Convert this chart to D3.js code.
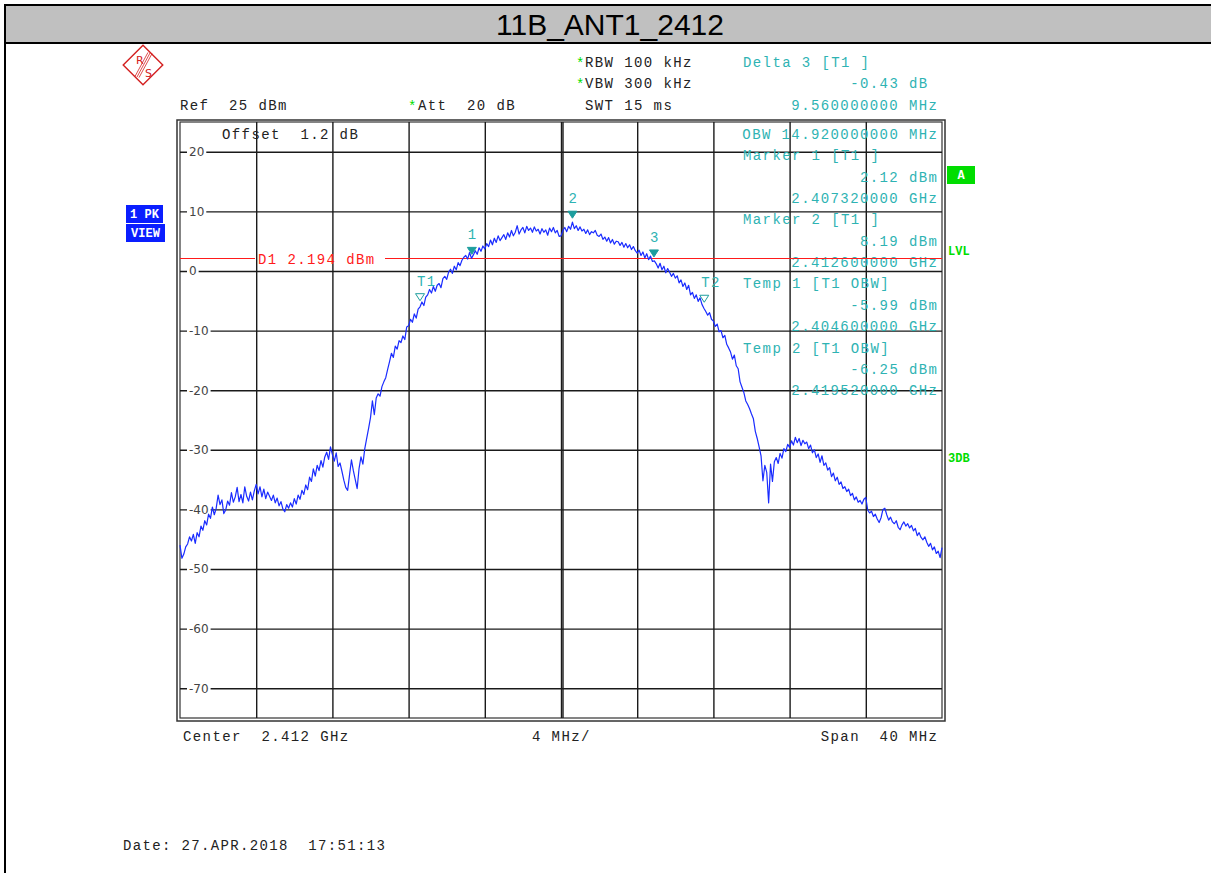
<!DOCTYPE html>
<html><head><meta charset="utf-8">
<script src="https://cdn.jsdelivr.net/npm/d3@7"></script>
<style>
body{margin:0;background:#fff;}
svg{display:block;}
.mono{font-family:"Liberation Mono",monospace;font-size:14px;letter-spacing:1.4px;white-space:pre;}
</style>
</head><body><svg id="c" width="1211" height="873"></svg>
<script>
// ---------- DATA ----------
const title = "11B_ANT1_2412";
const sweepStartMHz = 2392;
const sweepStepMHz = 0.1;
const spanMHz = [2392, 2432];
const levelRange = [-75, 25];
const yTickValues = [20, 10, 0, -10, -20, -30, -40, -50, -60, -70];
const yTickLabels = ["20", "10", "0", "-10", "-20", "-30", "-40", "-50", "-60", "-70"];
const xGridMHz = [2396, 2400, 2404, 2408, 2412, 2416, 2420, 2424, 2428];
const traceDbm = [
 -46.0,-48.2,-47.5,-46.3,-45.8,-44.6,-45.3,-44.2,-45.7,-43.9,
 -44.6,-42.8,-43.5,-41.9,-42.6,-40.8,-41.5,-39.6,-40.9,-39.8,
 -37.6,-39.2,-38.4,-40.7,-40.1,-38.6,-39.3,-37.2,-38.8,-37.9,
 -36.3,-38.7,-37.5,-38.9,-36.2,-37.8,-38.6,-37.1,-38.4,-36.9,
 -35.8,-37.4,-36.2,-37.9,-36.6,-38.2,-37.1,-37.8,-38.5,-37.6,
 -38.9,-38.1,-39.4,-38.7,-39.9,-40.4,-39.2,-39.8,-38.9,-39.6,
 -38.2,-39.1,-37.6,-38.3,-36.8,-37.5,-35.9,-36.7,-34.6,-35.3,
 -33.2,-34.4,-32.6,-33.5,-31.8,-32.9,-31.2,-30.4,-31.6,-29.5,
 -30.8,-31.9,-30.5,-32.8,-32.2,-33.6,-35.1,-36.3,-36.8,-34.2,
 -31.7,-33.5,-35.0,-36.5,-33.1,-31.2,-32.4,-29.8,-28.1,-26.4,
 -24.6,-21.8,-24.1,-21.3,-20.6,-21.0,-19.4,-18.6,-17.9,-16.5,
 -15.2,-13.8,-14.5,-12.6,-13.1,-11.7,-12.0,-10.9,-11.5,-9.4,
 -9.2,-8.1,-8.6,-7.2,-7.9,-6.4,-6.0,-5.2,-5.8,-4.4,
 -4.0,-3.1,-3.7,-2.6,-3.4,-2.4,-2.1,-2.8,-1.3,-0.9,
 -1.4,-0.2,0.3,-0.4,0.8,0.2,1.4,0.9,1.8,2.3,
 2.6,2.0,3.1,2.12,2.7,3.4,2.8,3.9,3.3,4.2,
 3.7,4.6,4.1,5.2,4.4,5.5,4.8,5.9,5.1,5.6,
 6.1,5.3,6.4,5.7,6.8,5.9,6.5,7.6,6.2,6.9,
 7.3,6.4,7.5,6.8,7.2,6.5,7.4,6.7,7.0,6.2,
 7.1,6.5,6.9,6.0,7.2,6.6,7.3,6.4,6.8,5.8,
 5.9,6.8,7.3,6.6,7.5,7.0,8.19,7.1,7.6,6.8,
 7.4,6.7,7.0,6.3,6.9,6.1,6.6,6.4,6.8,6.0,
 5.8,6.2,5.3,5.7,5.0,5.6,4.7,5.3,4.5,5.0,
 4.9,4.3,4.8,4.0,4.6,3.9,4.4,3.6,4.1,3.4,
 3.0,3.5,2.6,3.2,2.2,2.9,1.9,2.5,1.6,1.7,
 1.2,0.5,1.3,0.2,0.8,-0.3,0.4,-0.2,-0.9,-0.4,
 -1.2,-0.8,-2.0,-1.5,-2.6,-2.0,-3.1,-2.4,-4.0,-3.6,
 -4.6,-4.0,-5.1,-4.5,-5.6,-6.25,-6.8,-7.4,-7.0,-8.1,
 -8.4,-9.3,-8.9,-10.2,-10.0,-11.2,-10.8,-12.3,-12.9,-13.6,
 -14.8,-14.1,-15.9,-16.4,-18.6,-19.5,-20.4,-21.8,-22.4,-23.1,
 -24.0,-24.8,-26.9,-28.1,-29.5,-31.0,-35.2,-32.6,-33.8,-38.9,
 -32.4,-35.3,-32.0,-31.3,-32.3,-30.6,-31.4,-29.8,-30.3,-29.1,
 -29.6,-28.5,-29.2,-27.9,-28.8,-28.1,-29.3,-28.4,-29.0,-28.7,
 -29.8,-29.2,-30.5,-30.0,-31.3,-30.7,-32.1,-31.0,-32.6,-32.2,
 -33.4,-33.0,-34.5,-33.9,-35.2,-34.6,-35.8,-35.4,-36.5,-36.2,
 -37.0,-36.6,-37.7,-37.3,-38.4,-37.9,-38.8,-38.5,-39.1,-38.3,
 -38.0,-40.1,-40.6,-40.3,-41.2,-40.8,-41.6,-42.2,-41.4,-40.0,
 -39.8,-40.9,-41.8,-41.3,-42.1,-42.4,-41.9,-43.0,-43.4,-42.6,
 -42.1,-42.8,-42.4,-43.1,-42.7,-43.6,-43.2,-44.4,-43.9,-44.7,
 -45.1,-44.6,-45.5,-46.2,-45.7,-46.8,-46.3,-47.4,-47.0,-48.1,
 -46.4
];
const markers = [
 {label:"1", freq:2407.32, level:2.12, kind:"filled"},
 {label:"2", freq:2412.60, level:8.19, kind:"filled"},
 {label:"3", freq:2416.88, level:1.69, kind:"filled"},
 {label:"T1", freq:2404.60, level:-5.99, kind:"hollow"},
 {label:"T2", freq:2419.52, level:-6.25, kind:"hollow"}
];
const displayLineLevel = 2.194;
const displayLineLabel = "D1 2.194 dBm";
const headerLeft = [["RBW 100 kHz", true], ["VBW 300 kHz", true], ["SWT 15 ms", false]];
const markerPanel = [
 ["Delta 3 [T1 ]", "left"], ["-0.43 dB ", "right"], ["9.560000000 MHz", "right"],
 ["OBW 14.920000000 MHz", "right"],
 ["Marker 1 [T1 ]", "left"], ["2.12 dBm", "right"], ["2.407320000 GHz", "right"],
 ["Marker 2 [T1 ]", "left"], ["8.19 dBm", "right"], ["2.412600000 GHz", "right"],
 ["Temp 1 [T1 OBW]", "left"], ["-5.99 dBm", "right"], ["2.404600000 GHz", "right"],
 ["Temp 2 [T1 OBW]", "left"], ["-6.25 dBm", "right"], ["2.419520000 GHz", "right"]
];
const refText = "Ref  25 dBm";
const attText = "Att  20 dB";
const offsetText = "Offset  1.2 dB";
const bottomTexts = ["Center  2.412 GHz", "4 MHz/", "Span  40 MHz"];
const dateText = "Date: 27.APR.2018  17:51:13";

// ---------- DRAW ----------
const svg = d3.select("#c");
const L = 180, R = 942, T = 122, B = 718;
const x = d3.scaleLinear().domain(spanMHz).range([L, R]);
const y = d3.scaleLinear().domain(levelRange).range([B, T]);
const TEAL = "#2eb3b3", GREEN = "#00dd00", BLUE = "#1a2cff", RED = "#ff1a1a", DARK = "#222";

// page frame + header
svg.append("rect").attr("x",5).attr("y",5).attr("width",1220).attr("height",38)
  .attr("fill","#c0c0c0").attr("stroke","#000").attr("stroke-width",2);
svg.append("line").attr("x1",5).attr("x2",5).attr("y1",5).attr("y2",873).attr("stroke","#000").attr("stroke-width",2);
svg.append("text").attr("x",610).attr("y",35).attr("text-anchor","middle")
  .style("font-family","'Liberation Sans',Arial,sans-serif").style("font-size","30px").attr("fill","#000")
  .text(title);

// R&S logo
const logo = svg.append("g").attr("transform","translate(143,65)");
logo.append("rect").attr("x",-14).attr("y",-14).attr("width",28).attr("height",28)
  .attr("transform","rotate(45)").attr("fill","none").attr("stroke","#d42020").attr("stroke-width",1.4);
[-2,0,2].forEach(o=>logo.append("line").attr("x1",7+o).attr("y1",-12+o*0.3).attr("x2",-6+o).attr("y2",12+o*0.3)
  .attr("stroke","#d42020").attr("stroke-width",0.8));
logo.append("text").attr("x",-7).attr("y",-1).style("font-family","'DejaVu Sans',sans-serif").style("font-size","11px").attr("fill","#d42020").text("R");
logo.append("text").attr("x",2).attr("y",12).style("font-family","'DejaVu Sans',sans-serif").style("font-size","11px").attr("fill","#d42020").text("S");

function mono(txt, xx, yy, color, anchor){
  return svg.append("text").attr("class","mono").attr("x",xx).attr("y",yy)
    .attr("text-anchor",anchor||"start").attr("fill",color).attr("xml:space","preserve").text(txt);
}
const rowY = i => 67 + i*21.4;
headerLeft.forEach((h,i)=>{
  if(h[1]) mono("*", 576, rowY(i)+1, GREEN);
  mono(h[0], 585, rowY(i), DARK);
});
mono(refText, 180, rowY(2), DARK);
mono("*", 408, rowY(2)+1, GREEN);
mono(attText, 418, rowY(2), DARK);

// plot frame (double)
svg.append("rect").attr("x",177).attr("y",120).attr("width",768).attr("height",601).attr("fill","none").attr("stroke","#333").attr("stroke-width",1.5);
svg.append("rect").attr("x",L).attr("y",T).attr("width",R-L).attr("height",B-T).attr("fill","#fff").attr("stroke","#333").attr("stroke-width",1.2);

// grid via axes
const gx = svg.append("g").attr("transform",`translate(0,${B})`)
  .call(d3.axisTop(x).tickValues(xGridMHz).tickSize(B-T).tickFormat(""));
gx.select(".domain").remove();
gx.selectAll("line").attr("stroke","#1a1a1a").attr("stroke-width",1.4);
svg.append("line").attr("x1",x(2412)+2).attr("x2",x(2412)+2).attr("y1",T).attr("y2",B).attr("stroke","#1a1a1a").attr("stroke-width",1.4);

const gy = svg.append("g").attr("transform",`translate(${R},0)`)
  .call(d3.axisLeft(y).tickValues(yTickValues).tickSize(R-L).tickFormat(""));
gy.select(".domain").remove();
gy.selectAll("line").attr("stroke","#1a1a1a").attr("stroke-width",1.4);

// y labels
const gyl = svg.append("g").attr("transform",`translate(${L},0)`)
  .call(d3.axisRight(y).tickValues(yTickValues).tickSize(0).tickPadding(9)
    .tickFormat((d,i)=>yTickLabels[i]));
gyl.select(".domain").remove();
gyl.selectAll("text").style("font-family","'DejaVu Sans',sans-serif").style("font-size","12px").attr("fill","#444");
gyl.selectAll(".tick").each(function(){
  const t = d3.select(this).select("text");
  const bb = t.node().getBBox();
  d3.select(this).insert("rect","text").attr("x",bb.x-2).attr("y",bb.y).attr("width",bb.width+4).attr("height",bb.height).attr("fill","#fff");
});

// offset text and marker panel
mono(offsetText, 222, 139, DARK);
markerPanel.forEach((m,i)=>{
  const yy = i < 3 ? rowY(i) : 139 + (i-3)*21.35;
  if(m[1]==="left") mono(m[0], 743, yy, TEAL);
  else mono(m[0], 938.4, yy, TEAL, "end");
});

// display line D1
const dy = Math.round(y(displayLineLevel)) + 0.5;
svg.append("line").attr("x1",L).attr("x2",255).attr("y1",dy).attr("y2",dy).attr("stroke",RED).attr("stroke-width",1);
svg.append("line").attr("x1",385).attr("x2",R).attr("y1",dy).attr("y2",dy).attr("stroke",RED).attr("stroke-width",1);
mono(displayLineLabel, 258, dy+5, RED);

// trace
const line = d3.line().x((d,i)=>x(sweepStartMHz + i*sweepStepMHz)).y(d=>y(d));
svg.append("path").datum(traceDbm).attr("d",line).attr("fill","none").attr("stroke",BLUE).attr("stroke-width",1.2).attr("stroke-linejoin","round");

// markers
markers.forEach(m=>{
  const mx = x(m.freq), my = y(m.level);
  const top = my - (m.kind==="filled" ? 11 : 13);
  svg.append("path").attr("d",`M${mx-4.5},${top}L${mx+4.5},${top}L${mx},${top+7}Z`)
    .attr("fill", m.kind==="filled" ? "#1d9e9e" : "none").attr("stroke","#1d9e9e").attr("stroke-width",1);
  mono(m.label, m.kind==="filled" ? mx-4 : mx-3, top-8, TEAL);
});

// badges
function badge(txt, bx, by, w, h, fill){
  svg.append("rect").attr("x",bx).attr("y",by).attr("width",w).attr("height",h).attr("fill",fill);
  svg.append("text").attr("x",bx+w/2).attr("y",by+h/2+4).attr("text-anchor","middle")
    .style("font-family","'Liberation Mono',monospace").style("font-size","12px").style("font-weight","bold")
    .attr("fill","#fff").attr("xml:space","preserve").text(txt);
}
badge("1 PK",126,205,37,18,"#0a1eff");
badge("VIEW",126,224,39,18,"#0a1eff");
badge("A",947,166,28,18,"#00dd00");
[["LVL",255],["3DB",462]].forEach(d=>svg.append("text").attr("x",948).attr("y",d[1])
  .style("font-family","'Liberation Mono',monospace").style("font-size","12px").style("font-weight","bold")
  .attr("fill",GREEN).text(d[0]));

// bottom texts
mono(bottomTexts[0], 183, 741, DARK);
mono(bottomTexts[1], 532, 741, DARK);
mono(bottomTexts[2], 938.4, 741, DARK, "end");
svg.append("text").attr("x",123).attr("y",850).attr("xml:space","preserve")
  .style("font-family","'Liberation Mono',monospace").style("font-size","14px").style("letter-spacing","1.35px")
  .attr("fill",DARK).text(dateText);
</script></body></html>
